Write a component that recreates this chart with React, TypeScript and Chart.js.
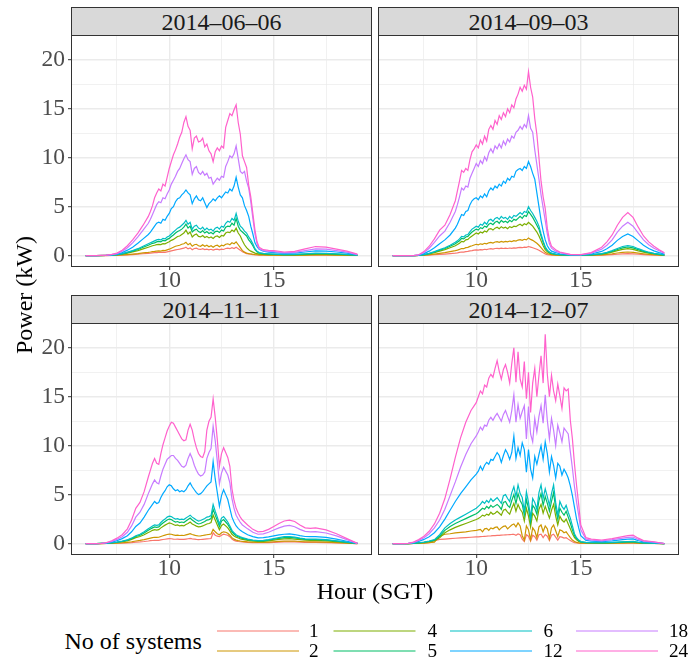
import { useEffect, useRef } from 'react';
import { Chart, registerables } from 'chart.js';

Chart.register(...registerables);

// ---- series meta ----
const SERIES_LABELS = ['1', '2', '4', '5', '6', '12', '18', '24'];
const SERIES_COLORS = ['#F8766D', '#CD9600', '#7CAE00', '#00BE67', '#00BFC4', '#00A9FF', '#C77CFF', '#FF61CC'];
const PANEL_DATES = ['2014\u201306\u201306', '2014\u201309\u201303', '2014\u201311\u201311', '2014\u201312\u201307'];

// ---- axes ----
const X_MIN = 5.35;
const X_MAX = 19.65;
const Y_MIN = -1.07;
const Y_MAX = 22.44;
const X_GRID = [7.5, 10, 12.5, 15, 17.5];
const Y_GRID = [0, 2.5, 5, 7.5, 10, 12.5, 15, 17.5, 20];

// ---- 2014-06-06 ----
const hoursJun06 = [
  6.0, 6.5, 7.0, 7.25, 7.5, 7.75, 8.0, 8.25, 8.5, 8.75,
  9.0, 9.1, 9.2, 9.3, 9.4, 9.5, 9.6, 9.7, 9.8, 9.9,
  10.0, 10.1, 10.2, 10.3, 10.4, 10.5, 10.6, 10.7, 10.8, 10.9,
  11.0, 11.1, 11.2, 11.3, 11.4, 11.5, 11.6, 11.7, 11.8, 11.9,
  12.0, 12.1, 12.2, 12.3, 12.4, 12.5, 12.6, 12.7, 12.8, 12.9,
  13.0, 13.1, 13.2, 13.3, 13.4, 13.5, 13.6, 13.7, 13.8, 13.9,
  14.0, 14.1, 14.2, 14.3, 14.5, 14.75, 15.0, 15.5, 16.0, 16.5,
  17.0, 17.5, 18.0, 18.5, 19.0,
];
const jun06Sys24 = [
  0, 0, 0.05, 0.12, 0.25, 0.55, 1.0, 1.6, 2.3, 3.1,
  4.0, 4.5, 5.1, 5.9, 6.4, 6.8, 6.6, 7.3, 7.1, 8.0,
  8.9, 9.6, 10.3, 10.8, 11.4, 12.1, 12.6, 13.6, 14.2, 13.2,
  12.8, 10.9, 12.0, 12.2, 11.6, 11.7, 12.0, 11.1, 11.4, 10.7,
  10.4, 9.6, 10.6, 11.0, 10.7, 11.2, 11.0, 13.1, 13.8, 14.5,
  14.3, 14.9, 15.4, 13.6, 12.4, 10.2, 9.6, 9.0, 7.2, 6.0,
  4.3, 2.6, 1.4, 0.85, 0.6, 0.52, 0.5, 0.36, 0.42, 0.68,
  0.92, 0.86, 0.66, 0.45, 0.14,
];
const jun06Sys18 = [
  0, 0, 0.04, 0.1, 0.2, 0.45, 0.8, 1.3, 1.9, 2.6,
  3.3, 3.7, 4.2, 4.7, 5.2, 5.5, 5.4, 5.9, 5.8, 6.3,
  6.7, 7.3, 7.7, 8.1, 8.6, 8.9, 9.4, 9.9, 10.3, 9.8,
  9.6, 8.3, 8.9, 9.1, 8.5, 8.3, 8.6, 8.2, 8.4, 7.9,
  8.0, 7.3, 7.6, 7.9, 7.7, 8.1, 8.0, 9.1, 9.6, 10.2,
  10.0, 10.4, 11.2, 9.9, 8.6, 8.4, 8.6, 7.6, 6.9, 5.5,
  3.8, 2.2, 1.2, 0.7, 0.5, 0.42, 0.4, 0.28, 0.32, 0.5,
  0.68, 0.65, 0.5, 0.34, 0.1,
];
const jun06Sys12 = [
  0, 0, 0.03, 0.07, 0.15, 0.3, 0.55, 0.85, 1.25, 1.7,
  2.15, 2.4, 2.7, 3.0, 3.3, 3.4, 3.3, 3.7, 3.6, 4.0,
  4.3, 4.8, 5.0, 5.5, 5.8, 5.9, 6.2, 6.4, 6.7, 6.4,
  6.2, 5.3, 5.8, 6.1, 5.7, 5.6, 5.9, 5.4, 4.9, 5.3,
  5.5, 5.8, 5.6, 5.9, 6.1, 5.9, 6.2, 6.5, 6.4, 6.8,
  6.6, 7.1, 8.0, 7.0, 6.2, 5.9, 5.1, 4.6, 4.0, 3.0,
  2.2, 1.3, 0.9, 0.65, 0.45, 0.35, 0.3, 0.22, 0.25, 0.36,
  0.48, 0.46, 0.36, 0.24, 0.07,
];
const jun06Sys6 = [
  0, 0, 0.02, 0.05, 0.1, 0.2, 0.35, 0.5, 0.7, 0.95,
  1.2, 1.3, 1.4, 1.5, 1.6, 1.65, 1.6, 1.75, 1.7, 1.9,
  2.0, 2.2, 2.4, 2.6, 2.8, 2.9, 3.1, 3.3, 3.6, 3.2,
  3.4, 2.7, 3.0, 3.1, 2.8, 2.7, 2.9, 2.6, 2.8, 2.6,
  2.7, 2.5, 2.8, 2.9, 2.7, 3.0, 2.9, 3.3, 3.5, 3.4,
  3.8, 3.6, 4.3, 3.5, 3.0, 2.8, 2.5, 2.3, 1.9, 1.6,
  1.2, 0.7, 0.45, 0.3, 0.22, 0.18, 0.15, 0.1, 0.12, 0.18,
  0.24, 0.23, 0.18, 0.12, 0.03,
];
const jun06Sys5 = [
  0, 0, 0.02, 0.04, 0.09, 0.17, 0.3, 0.45, 0.62, 0.85,
  1.05, 1.15, 1.25, 1.3, 1.4, 1.45, 1.4, 1.55, 1.5, 1.65,
  1.75, 1.95, 2.1, 2.3, 2.45, 2.55, 2.7, 2.9, 3.2, 2.8,
  3.0, 2.4, 2.6, 2.7, 2.45, 2.35, 2.55, 2.3, 2.45, 2.25,
  2.35, 2.2, 2.45, 2.5, 2.35, 2.6, 2.5, 2.9, 3.0, 2.95,
  3.3, 3.1, 3.8, 3.0, 2.6, 2.4, 2.2, 2.0, 1.6, 1.35,
  1.0, 0.6, 0.38, 0.25, 0.18, 0.15, 0.13, 0.09, 0.1, 0.15,
  0.2, 0.19, 0.15, 0.1, 0.03,
];
const jun06Sys4 = [
  0, 0, 0.01, 0.03, 0.07, 0.14, 0.25, 0.37, 0.5, 0.68,
  0.85, 0.92, 1.0, 1.05, 1.12, 1.15, 1.12, 1.22, 1.2, 1.3,
  1.4, 1.55, 1.65, 1.8, 1.95, 2.0, 2.15, 2.3, 2.6, 2.2,
  2.4, 1.9, 2.1, 2.2, 1.95, 1.9, 2.05, 1.85, 1.95, 1.8,
  1.9, 1.75, 1.95, 2.0, 1.85, 2.05, 2.0, 2.3, 2.4, 2.35,
  2.6, 2.45, 2.8, 2.3, 2.0, 1.5, 1.1, 0.8, 0.6, 0.45,
  0.35, 0.25, 0.2, 0.15, 0.12, 0.1, 0.09, 0.06, 0.07, 0.1,
  0.13, 0.12, 0.1, 0.06, 0.02,
];
const jun06Sys2 = [
  0, 0, 0.01, 0.02, 0.03, 0.06, 0.1, 0.15, 0.2, 0.27,
  0.33, 0.36, 0.4, 0.42, 0.45, 0.47, 0.46, 0.52, 0.5, 0.58,
  0.65, 0.75, 0.85, 0.95, 1.0, 1.05, 1.15, 1.2, 1.35, 1.1,
  1.25, 0.95, 1.1, 1.15, 1.0, 0.95, 1.1, 0.95, 1.05, 0.9,
  1.0, 0.85, 1.0, 1.05, 0.9, 1.05, 1.0, 1.15, 1.2, 1.1,
  1.3, 1.2, 1.4, 1.1, 0.8, 0.5, 0.35, 0.25, 0.2, 0.16,
  0.13, 0.1, 0.08, 0.07, 0.06, 0.05, 0.04, 0.03, 0.03, 0.05,
  0.06, 0.06, 0.05, 0.03, 0.01,
];
const jun06Sys1 = [
  0, 0, 0, 0.01, 0.02, 0.04, 0.07, 0.1, 0.14, 0.18,
  0.23, 0.25, 0.27, 0.29, 0.3, 0.32, 0.31, 0.34, 0.33, 0.38,
  0.42, 0.48, 0.52, 0.57, 0.62, 0.65, 0.7, 0.75, 0.85, 0.68,
  0.78, 0.6, 0.72, 0.75, 0.64, 0.62, 0.7, 0.6, 0.66, 0.58,
  0.64, 0.55, 0.63, 0.66, 0.58, 0.66, 0.62, 0.72, 0.75, 0.7,
  0.8, 0.72, 0.85, 0.7, 0.55, 0.38, 0.28, 0.2, 0.16, 0.13,
  0.1, 0.08, 0.06, 0.05, 0.04, 0.03, 0.03, 0.02, 0.02, 0.03,
  0.04, 0.04, 0.03, 0.02, 0.01,
];

// ---- 2014-09-03 ----
const hoursSep03 = [
  6.0, 6.5, 7.0, 7.25, 7.5, 7.75, 8.0, 8.25, 8.5, 8.75,
  9.0, 9.1, 9.2, 9.3, 9.4, 9.5, 9.6, 9.7, 9.8, 9.9,
  10.0, 10.1, 10.2, 10.3, 10.4, 10.5, 10.6, 10.7, 10.8, 10.9,
  11.0, 11.1, 11.2, 11.3, 11.4, 11.5, 11.6, 11.7, 11.8, 11.9,
  12.0, 12.1, 12.2, 12.3, 12.4, 12.5, 12.6, 12.7, 12.8, 12.9,
  13.0, 13.1, 13.2, 13.3, 13.4, 13.5, 13.6, 13.8, 14.0, 14.5,
  15.0, 15.5, 16.0, 16.25, 16.5, 16.75, 17.0, 17.25, 17.5, 17.75,
  18.0, 18.25, 18.5, 18.75, 19.0,
];
const sep03Sys24 = [
  0, 0, 0, 0.08, 0.4, 0.95, 1.7, 2.6, 3.1, 4.2,
  5.6, 6.6, 7.6, 8.7, 8.5, 8.9, 8.7, 9.8, 10.6, 10.9,
  11.3, 11.0, 11.8, 11.4, 12.2, 11.7, 12.9, 13.3, 12.9, 13.8,
  13.4, 14.3, 13.9, 14.6, 14.2, 15.0, 14.6, 15.4, 15.1, 16.0,
  16.5, 17.2, 16.8, 17.4, 17.0, 18.8, 17.2, 16.2, 14.0, 12.4,
  10.0, 7.6, 6.0, 4.8, 2.8, 1.6, 0.95, 0.6, 0.35, 0.12,
  0.1, 0.3, 0.85, 1.4, 2.1, 3.1, 3.9, 4.4, 3.9, 2.9,
  2.0, 1.4, 0.95, 0.6, 0.28,
];
const sep03Sys18 = [
  0, 0, 0, 0.06, 0.3, 0.75, 1.35, 2.0, 2.5, 3.4,
  4.5, 5.2, 6.0, 6.9, 6.7, 7.1, 7.0, 7.9, 8.4, 8.9,
  9.4, 9.1, 9.7, 9.4, 10.1, 9.7, 10.5, 10.9, 10.5, 11.2,
  10.9, 11.4, 11.0, 11.7, 11.3, 11.9, 11.6, 12.2, 12.0, 12.6,
  12.8, 13.2, 12.9, 13.4, 13.1, 14.3, 13.0, 12.6, 10.8, 9.3,
  7.8, 6.2, 4.9, 3.6, 2.2, 1.2, 0.75, 0.45, 0.28, 0.1,
  0.08, 0.24, 0.65, 1.05, 1.6, 2.4, 3.0, 3.4, 3.0, 2.3,
  1.6, 1.1, 0.75, 0.48, 0.22,
];
const sep03Sys12 = [
  0, 0, 0, 0.04, 0.2, 0.45, 0.8, 1.2, 1.6, 2.1,
  2.8, 3.2, 3.7, 4.2, 4.1, 4.5, 4.6, 5.2, 5.6, 5.8,
  5.9, 5.7, 6.1, 5.9, 6.3, 6.0, 6.6, 6.9, 6.7, 7.1,
  6.9, 7.3, 7.1, 7.6, 7.4, 7.9, 7.7, 8.1, 8.0, 8.6,
  8.8, 8.9, 8.7, 9.1, 8.9, 9.6, 9.1, 8.4, 7.8, 6.4,
  5.0, 3.6, 2.5, 1.6, 1.0, 0.65, 0.45, 0.3, 0.18, 0.07,
  0.06, 0.16, 0.42, 0.7, 1.05, 1.55, 1.95, 2.2, 1.95, 1.5,
  1.05, 0.72, 0.48, 0.3, 0.14,
];
const sep03Sys6 = [
  0, 0, 0, 0.02, 0.1, 0.22, 0.4, 0.6, 0.8, 1.05,
  1.35, 1.5, 1.7, 1.95, 1.9, 2.1, 2.15, 2.45, 2.7, 2.85,
  3.0, 2.9, 3.2, 3.1, 3.4, 3.2, 3.6, 3.7, 3.5, 3.8,
  3.9, 3.7, 4.0, 3.8, 3.9, 3.7, 4.0, 3.8, 4.1, 4.0,
  4.2, 4.4, 4.2, 4.5, 4.4, 5.0, 4.6, 4.3, 3.9, 3.5,
  3.0, 2.2, 1.5, 0.9, 0.55, 0.35, 0.25, 0.15, 0.09, 0.04,
  0.03, 0.08, 0.2, 0.33, 0.5, 0.72, 0.92, 1.02, 0.92, 0.7,
  0.5, 0.34, 0.22, 0.14, 0.06,
];
const sep03Sys5 = [
  0, 0, 0, 0.02, 0.09, 0.2, 0.36, 0.54, 0.72, 0.95,
  1.2, 1.35, 1.5, 1.75, 1.7, 1.9, 1.95, 2.2, 2.4, 2.55,
  2.7, 2.6, 2.85, 2.75, 3.0, 2.9, 3.2, 3.3, 3.15, 3.4,
  3.5, 3.3, 3.6, 3.4, 3.5, 3.35, 3.6, 3.45, 3.7, 3.6,
  3.8, 4.0, 3.8, 4.1, 4.0, 4.5, 4.2, 3.9, 3.5, 3.1,
  2.7, 2.0, 1.35, 0.8, 0.5, 0.32, 0.22, 0.13, 0.08, 0.04,
  0.03, 0.07, 0.17, 0.28, 0.42, 0.62, 0.78, 0.87, 0.78, 0.6,
  0.43, 0.29, 0.19, 0.12, 0.05,
];
const sep03Sys4 = [
  0, 0, 0, 0.02, 0.07, 0.16, 0.3, 0.45, 0.6, 0.8,
  1.0, 1.12, 1.25, 1.45, 1.4, 1.6, 1.65, 1.85, 2.0, 2.15,
  2.3, 2.2, 2.4, 2.3, 2.5, 2.4, 2.7, 2.75, 2.6, 2.8,
  2.9, 2.75, 2.95, 2.8, 2.9, 2.75, 2.95, 2.85, 3.0, 2.95,
  3.1, 3.2, 3.05, 3.25, 3.15, 3.4, 3.2, 3.0, 2.7, 2.4,
  2.0, 1.5, 1.0, 0.6, 0.38, 0.25, 0.17, 0.1, 0.06, 0.03,
  0.02, 0.06, 0.14, 0.23, 0.35, 0.5, 0.63, 0.7, 0.63, 0.48,
  0.35, 0.24, 0.16, 0.1, 0.04,
];
const sep03Sys2 = [
  0, 0, 0, 0.01, 0.04, 0.08, 0.15, 0.22, 0.3, 0.4,
  0.5, 0.56, 0.63, 0.72, 0.7, 0.8, 0.83, 0.93, 1.0, 1.08,
  1.15, 1.1, 1.2, 1.15, 1.25, 1.2, 1.3, 1.35, 1.28, 1.38,
  1.42, 1.35, 1.45, 1.38, 1.45, 1.4, 1.48, 1.42, 1.52, 1.48,
  1.58, 1.62, 1.55, 1.66, 1.6, 1.8, 1.65, 1.55, 1.4, 1.25,
  1.05, 0.8, 0.55, 0.33, 0.2, 0.13, 0.09, 0.05, 0.03, 0.02,
  0.01, 0.03, 0.07, 0.12, 0.18, 0.26, 0.32, 0.36, 0.32, 0.25,
  0.18, 0.12, 0.08, 0.05, 0.02,
];
const sep03Sys1 = [
  0, 0, 0, 0.01, 0.02, 0.04, 0.08, 0.11, 0.15, 0.2,
  0.25, 0.28, 0.32, 0.36, 0.35, 0.4, 0.42, 0.47, 0.5, 0.55,
  0.58, 0.56, 0.61, 0.58, 0.64, 0.6, 0.67, 0.7, 0.65, 0.72,
  0.74, 0.7, 0.76, 0.72, 0.75, 0.72, 0.77, 0.74, 0.79, 0.76,
  0.81, 0.84, 0.8, 0.86, 0.83, 0.92, 0.86, 0.8, 0.72, 0.64,
  0.54, 0.41, 0.28, 0.17, 0.1, 0.07, 0.05, 0.03, 0.02, 0.01,
  0.01, 0.02, 0.04, 0.06, 0.09, 0.13, 0.17, 0.19, 0.17, 0.13,
  0.09, 0.06, 0.04, 0.03, 0.01,
];

// ---- 2014-11-11 ----
const hoursNov11 = [
  6.0, 6.5, 6.75, 7.0, 7.25, 7.5, 7.75, 8.0, 8.2, 8.4,
  8.6, 8.8, 9.0, 9.1, 9.2, 9.3, 9.4, 9.5, 9.6, 9.7,
  9.8, 9.9, 10.0, 10.1, 10.2, 10.3, 10.4, 10.5, 10.6, 10.7,
  10.8, 10.9, 11.0, 11.1, 11.2, 11.3, 11.4, 11.5, 11.6, 11.7,
  11.8, 11.9, 12.0, 12.1, 12.2, 12.3, 12.4, 12.5, 12.6, 12.7,
  12.8, 12.9, 13.0, 13.1, 13.2, 13.3, 13.4, 13.5, 13.75, 14.0,
  14.25, 14.5, 14.75, 15.0, 15.25, 15.5, 15.75, 16.0, 16.25, 16.5,
  16.75, 17.0, 17.5, 18.0, 18.5, 19.0,
];
const nov11Sys24 = [
  0, 0, 0.02, 0.1, 0.28, 0.55, 0.9, 1.5, 2.4, 3.6,
  4.2, 5.3, 6.8, 7.5, 8.2, 8.7, 8.2, 8.1, 9.2, 10.1,
  10.8, 11.5, 12.0, 12.4, 12.3, 11.9, 11.5, 11.1, 10.7, 10.5,
  10.6, 11.6, 12.2, 11.6, 10.6, 9.8, 9.2, 8.9, 8.8, 9.4,
  11.6, 12.5, 12.9, 14.8, 12.9, 10.6, 7.9, 9.2, 9.8, 9.3,
  8.8, 7.9, 5.6, 4.4, 3.6, 3.1, 2.7, 2.4, 1.9, 1.45,
  1.2, 1.25, 1.45, 1.75, 2.05, 2.3, 2.4, 2.25, 1.9, 1.6,
  1.55, 1.6, 1.4, 1.0, 0.5, 0.02,
];
const nov11Sys18 = [
  0, 0, 0.02, 0.08, 0.22, 0.42, 0.7, 1.15, 1.8, 2.7,
  3.2, 4.0, 5.1, 5.6, 6.1, 6.5, 6.2, 6.1, 6.9, 7.6,
  8.1, 8.6, 8.8, 9.0, 9.0, 8.7, 8.5, 8.2, 7.9, 7.8,
  8.0, 8.7, 9.2, 8.7, 8.0, 7.5, 7.1, 6.9, 7.0, 7.3,
  8.7, 9.3, 9.7, 12.0, 10.5, 8.4, 6.1, 7.2, 7.8, 7.4,
  7.0, 6.2, 4.6, 3.6, 2.9, 2.5, 2.15, 1.9, 1.5, 1.15,
  0.95, 0.98, 1.15, 1.38, 1.6, 1.78, 1.85, 1.72, 1.45, 1.25,
  1.2, 1.22, 1.08, 0.78, 0.4, 0.02,
];
const nov11Sys12 = [
  0, 0, 0.01, 0.05, 0.15, 0.3, 0.5, 0.8, 1.2, 1.75,
  2.1, 2.7, 3.4, 3.7, 4.0, 4.3, 4.1, 4.2, 4.7, 5.1,
  5.4, 5.8, 6.0, 5.9, 5.6, 5.4, 5.5, 5.3, 5.4, 5.3,
  5.5, 5.9, 6.2, 5.8, 5.5, 5.2, 5.0, 5.1, 5.3, 5.6,
  5.9, 6.1, 6.3, 8.4, 6.6, 5.2, 3.8, 4.9, 5.5, 5.0,
  4.5, 3.6, 2.7, 2.2, 1.8, 1.55, 1.35, 1.2, 0.9, 0.7,
  0.58, 0.6, 0.68, 0.78, 0.88, 0.95, 0.98, 0.92, 0.8, 0.72,
  0.7, 0.7, 0.62, 0.45, 0.23, 0.01,
];
const nov11Sys6 = [
  0, 0, 0.01, 0.03, 0.08, 0.15, 0.24, 0.38, 0.55, 0.8,
  0.95, 1.2, 1.5, 1.65, 1.8, 1.9, 1.85, 1.9, 2.15, 2.35,
  2.5, 2.7, 2.8, 2.75, 2.6, 2.5, 2.55, 2.45, 2.5, 2.45,
  2.6, 2.75, 2.9, 2.7, 2.55, 2.4, 2.3, 2.35, 2.45, 2.55,
  2.7, 2.75, 2.85, 4.0, 3.3, 2.7, 2.0, 2.6, 2.75, 2.5,
  2.2, 1.8, 1.35, 1.1, 0.9, 0.78, 0.68, 0.6, 0.45, 0.35,
  0.3, 0.32, 0.4, 0.5, 0.6, 0.7, 0.72, 0.66, 0.56, 0.48,
  0.45, 0.45, 0.4, 0.28, 0.14, 0.01,
];
const nov11Sys5 = [
  0, 0, 0.01, 0.03, 0.07, 0.13, 0.21, 0.34, 0.5, 0.72,
  0.85, 1.08, 1.35, 1.48, 1.6, 1.7, 1.65, 1.7, 1.92, 2.1,
  2.25, 2.4, 2.5, 2.45, 2.3, 2.2, 2.25, 2.15, 2.2, 2.15,
  2.3, 2.45, 2.6, 2.4, 2.25, 2.1, 2.0, 2.05, 2.15, 2.25,
  2.4, 2.45, 2.55, 3.5, 2.9, 2.35, 1.75, 2.3, 2.45, 2.2,
  1.95, 1.6, 1.2, 0.98, 0.8, 0.7, 0.6, 0.53, 0.4, 0.31,
  0.26, 0.28, 0.35, 0.44, 0.53, 0.6, 0.63, 0.58, 0.5, 0.42,
  0.4, 0.4, 0.35, 0.25, 0.12, 0.01,
];
const nov11Sys4 = [
  0, 0, 0.01, 0.02, 0.06, 0.11, 0.18, 0.28, 0.42, 0.6,
  0.72, 0.9, 1.12, 1.23, 1.35, 1.42, 1.38, 1.42, 1.6, 1.75,
  1.88, 2.0, 2.1, 2.05, 1.95, 1.85, 1.9, 1.8, 1.85, 1.8,
  1.95, 2.05, 2.2, 2.0, 1.9, 1.78, 1.7, 1.72, 1.8, 1.9,
  2.0, 2.05, 2.15, 2.9, 2.4, 1.9, 1.4, 1.85, 2.0, 1.8,
  1.6, 1.3, 0.95, 0.78, 0.65, 0.56, 0.48, 0.43, 0.32, 0.25,
  0.21, 0.22, 0.28, 0.35, 0.42, 0.48, 0.5, 0.46, 0.4, 0.34,
  0.32, 0.32, 0.28, 0.2, 0.1, 0.01,
];
const nov11Sys2 = [
  0, 0, 0, 0.01, 0.03, 0.05, 0.08, 0.12, 0.18, 0.26,
  0.32, 0.4, 0.5, 0.55, 0.6, 0.64, 0.62, 0.64, 0.72, 0.8,
  0.86, 0.92, 0.97, 0.95, 0.88, 0.84, 0.86, 0.82, 0.84, 0.82,
  0.88, 0.94, 1.0, 0.92, 0.86, 0.8, 0.77, 0.78, 0.82, 0.86,
  0.9, 0.93, 0.97, 1.45, 1.2, 1.0, 0.9, 1.1, 1.2, 1.15,
  1.05, 0.85, 0.6, 0.45, 0.35, 0.3, 0.26, 0.23, 0.17, 0.13,
  0.11, 0.12, 0.15, 0.18, 0.22, 0.25, 0.26, 0.24, 0.21, 0.18,
  0.17, 0.17, 0.15, 0.1, 0.05, 0,
];
const nov11Sys1 = [
  0, 0, 0, 0.01, 0.02, 0.03, 0.05, 0.07, 0.1, 0.14,
  0.17, 0.21, 0.26, 0.29, 0.31, 0.33, 0.32, 0.33, 0.37, 0.41,
  0.44, 0.47, 0.5, 0.49, 0.46, 0.44, 0.45, 0.43, 0.44, 0.43,
  0.46, 0.49, 0.52, 0.48, 0.45, 0.42, 0.4, 0.41, 0.43, 0.45,
  0.47, 0.49, 0.51, 1.1, 0.85, 0.75, 0.7, 0.85, 0.95, 0.9,
  0.85, 0.7, 0.45, 0.32, 0.25, 0.21, 0.18, 0.16, 0.12, 0.09,
  0.08, 0.08, 0.1, 0.12, 0.14, 0.16, 0.17, 0.16, 0.14, 0.12,
  0.11, 0.11, 0.1, 0.07, 0.03, 0,
];

// ---- 2014-12-07 ----
const hoursDec07 = [
  6.0, 6.5, 6.75, 7.0, 7.25, 7.5, 7.75, 8.0, 8.25, 8.5,
  8.75, 9.0, 9.25, 9.5, 9.75, 10.0, 10.1, 10.2, 10.3, 10.4,
  10.5, 10.6, 10.7, 10.8, 10.9, 11.0, 11.1, 11.2, 11.3, 11.4,
  11.5, 11.6, 11.7, 11.8, 11.9, 12.0, 12.1, 12.2, 12.3, 12.4,
  12.5, 12.6, 12.7, 12.8, 12.9, 13.0, 13.1, 13.2, 13.3, 13.4,
  13.5, 13.6, 13.7, 13.8, 13.9, 14.0, 14.1, 14.2, 14.3, 14.4,
  14.5, 14.6, 14.7, 14.8, 14.9, 15.0, 15.25, 15.5, 16.0, 16.5,
  17.0, 17.25, 17.5, 17.75, 18.0, 18.5, 19.0,
];
const dec07Sys24 = [
  0, 0, 0.02, 0.15, 0.4, 0.75, 1.25, 2.0, 3.1, 4.6,
  6.6, 8.8, 10.8, 12.4, 13.6, 14.4, 15.0, 15.6, 15.3, 16.2,
  16.0, 16.9, 17.3, 17.0, 17.9, 18.7, 17.6, 16.8, 17.8, 18.3,
  17.5, 16.4, 18.4, 20.0, 16.5, 19.6, 16.8, 16.0, 18.6, 14.8,
  17.5, 13.4, 16.4, 17.9, 15.0, 17.2, 19.2, 16.4, 21.4, 17.3,
  15.0, 17.2, 15.6, 14.6, 16.3, 15.1, 13.8, 15.9, 15.6, 15.8,
  12.6, 10.7, 8.1, 5.9, 4.0, 1.9, 0.6, 0.45, 0.36, 0.5,
  0.7, 0.8, 0.86, 0.55, 0.3, 0.18, 0,
];
const dec07Sys18 = [
  0, 0, 0.02, 0.12, 0.32, 0.6, 1.0, 1.6, 2.4, 3.5,
  4.9, 6.3, 7.8, 9.1, 10.2, 11.0, 11.4, 11.9, 11.6, 12.1,
  12.0, 12.6, 12.9, 12.6, 13.0, 13.3, 12.9, 12.5, 13.2, 13.6,
  13.0, 12.4, 13.6, 15.2, 12.4, 14.2, 12.8, 13.5, 14.1, 10.7,
  14.0, 11.2, 10.4, 12.8, 11.4, 13.0, 14.1, 12.3, 15.2, 12.6,
  10.7, 12.8, 11.6, 10.0, 12.1, 11.3, 10.4, 11.8, 11.5, 11.2,
  9.4, 7.7, 5.8, 4.2, 2.9, 1.4, 0.45, 0.35, 0.28, 0.4,
  0.55, 0.62, 0.66, 0.42, 0.24, 0.14, 0,
];
const dec07Sys12 = [
  0, 0, 0.01, 0.08, 0.22, 0.42, 0.7, 1.1, 1.7, 2.5,
  3.4, 4.3, 5.1, 5.8, 6.5, 7.1, 7.4, 7.9, 7.5, 8.0,
  8.3, 8.1, 8.6, 8.5, 8.9, 9.3, 9.0, 8.3, 9.0, 9.6,
  9.2, 8.6, 9.3, 11.0, 8.7, 9.8, 9.0, 10.3, 9.6, 7.3,
  9.6, 7.6, 6.7, 8.9, 8.1, 9.1, 10.0, 8.6, 10.4, 9.2,
  7.3, 8.9, 8.0, 6.7, 8.2, 7.9, 7.0, 7.6, 7.2, 6.7,
  5.9, 4.9, 3.7, 2.5, 1.6, 0.8, 0.32, 0.25, 0.2, 0.28,
  0.4, 0.45, 0.48, 0.3, 0.17, 0.1, 0,
];
const dec07Sys6 = [
  0, 0, 0, 0.03, 0.08, 0.15, 0.25, 0.4, 0.9, 1.6,
  2.05, 2.4, 2.7, 3.0, 3.3, 3.6, 3.8, 4.0, 4.3, 4.1,
  4.4, 4.2, 4.6, 4.3, 4.5, 4.7, 4.4, 4.1, 4.9, 5.0,
  4.6, 4.3, 5.2, 5.8, 4.8, 6.0, 5.1, 4.7, 3.3, 5.3,
  4.2, 2.6, 4.6, 4.2, 3.5, 5.2, 6.0, 4.6, 5.6, 4.8,
  3.9, 5.1, 6.0, 4.2, 2.9, 4.3, 3.8, 3.5, 3.9, 3.2,
  2.6, 1.8, 1.0, 0.6, 0.35, 0.2, 0.12, 0.1, 0.08, 0.12,
  0.17, 0.2, 0.22, 0.13, 0.07, 0.04, 0,
];
const dec07Sys5 = [
  0, 0, 0, 0.02, 0.07, 0.13, 0.22, 0.35, 0.75, 1.35,
  1.75, 2.05, 2.3, 2.55, 2.8, 3.05, 3.2, 3.4, 3.6, 3.5,
  3.8, 3.6, 3.9, 3.7, 3.85, 4.0, 3.8, 3.5, 4.2, 4.3,
  3.9, 3.7, 4.4, 5.0, 4.1, 5.1, 4.4, 4.0, 2.9, 4.5,
  3.6, 2.2, 3.9, 3.6, 3.0, 4.4, 5.1, 3.9, 4.8, 4.1,
  3.3, 4.3, 5.2, 3.6, 2.5, 3.6, 3.2, 2.9, 3.3, 2.7,
  2.1, 1.4, 0.8, 0.5, 0.3, 0.17, 0.1, 0.08, 0.07, 0.1,
  0.14, 0.17, 0.18, 0.11, 0.06, 0.03, 0,
];
const dec07Sys4 = [
  0, 0, 0, 0.02, 0.05, 0.1, 0.18, 0.28, 0.6, 1.1,
  1.4, 1.65, 1.85, 2.05, 2.25, 2.45, 2.55, 2.7, 2.9, 2.8,
  3.0, 2.9, 3.2, 3.0, 3.1, 3.3, 3.1, 2.9, 3.4, 3.5,
  3.2, 3.0, 3.6, 4.1, 3.3, 4.0, 3.5, 3.2, 2.3, 3.6,
  2.8, 1.7, 3.1, 2.8, 2.3, 3.5, 4.0, 3.1, 3.8, 3.2,
  2.6, 3.4, 4.0, 2.8, 1.9, 2.8, 2.4, 2.2, 2.5, 2.0,
  1.5, 1.0, 0.6, 0.38, 0.22, 0.13, 0.08, 0.06, 0.05, 0.08,
  0.11, 0.13, 0.14, 0.08, 0.05, 0.02, 0,
];
const dec07Sys2 = [
  0, 0, 0, 0.01, 0.03, 0.05, 0.09, 0.15, 0.75, 0.95,
  1.0, 1.08, 1.15, 1.2, 1.28, 1.35, 1.4, 1.45, 1.2, 1.5,
  1.55, 1.35, 1.6, 1.5, 1.65, 1.7, 1.4, 1.6, 1.75, 1.8,
  1.5, 1.7, 1.9, 2.0, 1.7, 2.1, 1.8, 0.8, 0.35, 1.8,
  1.4, 0.4, 1.6, 1.3, 0.6, 1.7, 1.9, 1.2, 1.8, 1.5,
  0.5, 1.6, 1.9, 1.3, 0.7, 1.4, 1.3, 1.1, 1.2, 0.9,
  0.6, 0.35, 0.2, 0.12, 0.07, 0.04, 0.03, 0.02, 0.02, 0.03,
  0.05, 0.06, 0.06, 0.04, 0.02, 0.01, 0,
];
const dec07Sys1 = [
  0, 0, 0, 0.01, 0.02, 0.04, 0.08, 0.3, 0.42, 0.46,
  0.5, 0.54, 0.57, 0.61, 0.64, 0.68, 0.69, 0.71, 0.72, 0.74,
  0.75, 0.77, 0.78, 0.8, 0.81, 0.83, 0.84, 0.86, 0.87, 0.89,
  0.9, 0.92, 0.93, 0.95, 0.85, 0.98, 0.9, 0.45, 0.2, 0.9,
  0.75, 0.25, 0.85, 0.7, 0.35, 0.9, 0.95, 0.6, 0.92, 0.75,
  0.3, 0.85, 0.95, 0.65, 0.35, 0.7, 0.65, 0.55, 0.6, 0.45,
  0.3, 0.18, 0.1, 0.06, 0.04, 0.02, 0.02, 0.01, 0.01, 0.02,
  0.03, 0.03, 0.03, 0.02, 0.01, 0.01, 0,
];

type PanelDef = { date: string; hours: number[]; series: number[][] };

const PANELS: PanelDef[] = [
  { date: PANEL_DATES[0], hours: hoursJun06, series: [jun06Sys1, jun06Sys2, jun06Sys4, jun06Sys5, jun06Sys6, jun06Sys12, jun06Sys18, jun06Sys24] },
  { date: PANEL_DATES[1], hours: hoursSep03, series: [sep03Sys1, sep03Sys2, sep03Sys4, sep03Sys5, sep03Sys6, sep03Sys12, sep03Sys18, sep03Sys24] },
  { date: PANEL_DATES[2], hours: hoursNov11, series: [nov11Sys1, nov11Sys2, nov11Sys4, nov11Sys5, nov11Sys6, nov11Sys12, nov11Sys18, nov11Sys24] },
  { date: PANEL_DATES[3], hours: hoursDec07, series: [dec07Sys1, dec07Sys2, dec07Sys4, dec07Sys5, dec07Sys6, dec07Sys12, dec07Sys18, dec07Sys24] },
];

// ---- layout ----
const FONT = "'Liberation Serif', 'Times New Roman', serif";
const PLOT_W = 299;
const PLOT_H = 230;
const COL_LEFT = [72, 379];
const ROW_TOP = [36, 324];
const STRIP_H = 28;
const PAD_TOP = 20;
const PAD_RIGHT = 4;
const X_AXIS_H = 40;
const GRID_COLOR = '#EBEBEB';
const AXIS_COLOR = '#333333';
const TICK_TEXT = '#4D4D4D';

const isMajor = (v: number) => Math.abs(v % 5) < 1e-9;

function FacetPanel({ panel, col, row }: { panel: PanelDef; col: number; row: number }) {
  const ref = useRef<HTMLCanvasElement>(null);
  const axisW = col === 0 ? 72 : 20;
  const left = COL_LEFT[col] - axisW;
  const top = ROW_TOP[row] - PAD_TOP;
  const width = axisW + PLOT_W + PAD_RIGHT;
  const height = PAD_TOP + PLOT_H + X_AXIS_H;

  useEffect(() => {
    if (!ref.current) return;
    const showY = col === 0;
    const gridColor = (c: any) => GRID_COLOR;
    const gridWidth = (c: any) => (c.tick && isMajor(c.tick.value) ? 1.4 : 0.7);
    const tickColor = (c: any) => (c.tick && isMajor(c.tick.value) ? AXIS_COLOR : 'rgba(0,0,0,0)');
    const chart = new Chart(ref.current, {
      type: 'line',
      data: {
        datasets: panel.series.map((vals, i) => ({
          label: SERIES_LABELS[i],
          data: panel.hours.map((h, j) => ({ x: h, y: vals[j] })),
          borderColor: SERIES_COLORS[i],
          backgroundColor: SERIES_COLORS[i],
          borderWidth: 1.2,
          pointRadius: 0,
          tension: 0,
          fill: false,
          order: SERIES_LABELS.length - i,
        })),
      },
      options: {
        responsive: false,
        animation: false,
        devicePixelRatio: 1,
        events: [],
        layout: { padding: { top: PAD_TOP, right: PAD_RIGHT, left: 0, bottom: 0 } },
        plugins: { legend: { display: false }, tooltip: { enabled: false }, title: { display: false } },
        scales: {
          x: {
            type: 'linear',
            min: X_MIN,
            max: X_MAX,
            afterBuildTicks: (s: any) => {
              s.ticks = X_GRID.map((v) => ({ value: v }));
            },
            afterFit: (s: any) => {
              s.height = X_AXIS_H;
            },
            border: { display: false },
            grid: {
              color: gridColor,
              lineWidth: gridWidth,
              drawTicks: true,
              tickLength: 4,
              tickColor: tickColor,
              tickWidth: 1,
            },
            ticks: {
              autoSkip: false,
              maxRotation: 0,
              padding: -1,
              color: TICK_TEXT,
              font: { family: FONT, size: 23.5, lineHeight: 1 },
              callback: (v: any) => (isMajor(Number(v)) ? String(v) : ''),
            },
          },
          y: {
            type: 'linear',
            min: Y_MIN,
            max: Y_MAX,
            afterBuildTicks: (s: any) => {
              s.ticks = Y_GRID.map((v) => ({ value: v }));
            },
            afterFit: (s: any) => {
              s.width = axisW;
            },
            border: { display: false },
            grid: {
              color: gridColor,
              lineWidth: gridWidth,
              drawTicks: showY,
              tickLength: 4,
              tickColor: tickColor,
              tickWidth: 1,
            },
            ticks: {
              display: showY,
              autoSkip: false,
              padding: 3,
              color: TICK_TEXT,
              font: { family: FONT, size: 23.5, lineHeight: 1 },
              callback: (v: any) => (isMajor(Number(v)) ? String(v) : ''),
            },
          },
        },
      } as any,
    });
    return () => chart.destroy();
  }, [panel, col, row]);

  return (
    <canvas
      ref={ref}
      width={width}
      height={height}
      style={{ position: 'absolute', left, top, width, height }}
    />
  );
}

function PanelFrame({ date, col, row }: { date: string; col: number; row: number }) {
  const x = COL_LEFT[col] - 1;
  const y = ROW_TOP[row] - 1;
  return (
    <>
      <div
        style={{
          position: 'absolute',
          left: x,
          top: y - STRIP_H,
          width: PLOT_W + 2,
          height: STRIP_H + 1,
          boxSizing: 'border-box',
          border: `1px solid ${AXIS_COLOR}`,
          background: '#D9D9D9',
          display: 'flex',
          alignItems: 'center',
          justifyContent: 'center',
          fontFamily: FONT,
          fontSize: 24,
          color: '#1A1A1A',
          lineHeight: '24px',
        }}
      >
        {date}
      </div>
      <div
        style={{
          position: 'absolute',
          left: x,
          top: y,
          width: PLOT_W + 2,
          height: PLOT_H + 2,
          boxSizing: 'border-box',
          border: `1px solid ${AXIS_COLOR}`,
          pointerEvents: 'none',
        }}
      />
    </>
  );
}

// legend layout: columns of two entries each
const LEGEND_KEY_X = [217, 333.5, 450, 576];
const LEGEND_LABEL_X = [309, 427.5, 543.5, 669];
const LEGEND_ROW_Y = [631, 651];
const LEGEND_KEY_LEN = 82;

function Legend() {
  return (
    <>
      <div
        style={{
          position: 'absolute',
          left: 64.5,
          top: 641 - 14,
          height: 28,
          lineHeight: '28px',
          fontFamily: FONT,
          fontSize: 24,
          color: '#000',
          whiteSpace: 'nowrap',
        }}
      >
        No of systems
      </div>
      <svg
        width={688}
        height={662}
        style={{ position: 'absolute', left: 0, top: 0, pointerEvents: 'none' }}
      >
        {SERIES_LABELS.map((lab, i) => {
          const c = Math.floor(i / 2);
          const r = i % 2;
          return (
            <line
              key={lab}
              x1={LEGEND_KEY_X[c]}
              x2={LEGEND_KEY_X[c] + LEGEND_KEY_LEN}
              y1={LEGEND_ROW_Y[r]}
              y2={LEGEND_ROW_Y[r]}
              stroke={SERIES_COLORS[i]}
              strokeWidth={1.2}
            />
          );
        })}
      </svg>
      {SERIES_LABELS.map((lab, i) => {
        const c = Math.floor(i / 2);
        const r = i % 2;
        return (
          <div
            key={lab}
            style={{
              position: 'absolute',
              left: LEGEND_LABEL_X[c],
              top: LEGEND_ROW_Y[r] - 11,
              height: 22,
              lineHeight: '22px',
              fontFamily: FONT,
              fontSize: 19.2,
              color: '#000',
              whiteSpace: 'nowrap',
            }}
          >
            {lab}
          </div>
        );
      })}
    </>
  );
}

export default function App() {
  return (
    <div
      style={{
        position: 'absolute',
        left: 0,
        top: 0,
        width: 688,
        height: 662,
        background: '#FFFFFF',
        overflow: 'hidden',
      }}
    >
      {PANELS.map((p, i) => (
        <FacetPanel key={p.date} panel={p} col={i % 2} row={Math.floor(i / 2)} />
      ))}
      {PANELS.map((p, i) => (
        <PanelFrame key={p.date} date={p.date} col={i % 2} row={Math.floor(i / 2)} />
      ))}
      <div
        style={{
          position: 'absolute',
          left: 23.7,
          top: 295,
          transform: 'translate(-50%, -50%) rotate(-90deg)',
          fontFamily: FONT,
          fontSize: 24,
          lineHeight: '24px',
          color: '#000',
          whiteSpace: 'nowrap',
        }}
      >
        Power (kW)
      </div>
      <div
        style={{
          position: 'absolute',
          left: 375,
          top: 590.5,
          transform: 'translate(-50%, -50%)',
          fontFamily: FONT,
          fontSize: 24,
          lineHeight: '24px',
          color: '#000',
          whiteSpace: 'nowrap',
        }}
      >
        Hour (SGT)
      </div>
      <Legend />
    </div>
  );
}
